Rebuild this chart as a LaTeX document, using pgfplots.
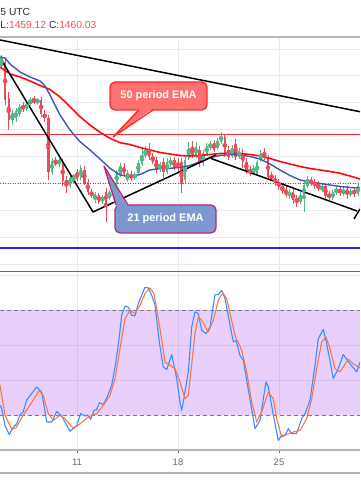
\documentclass[border=0pt]{standalone}
\usepackage{fontspec}
\setmainfont{Liberation Sans}
\usepackage{pgfplots}
\usepackage{pgfplotstable}
\pgfplotsset{compat=1.18}
\definecolor{tvgreen}{RGB}{83,185,135}
\definecolor{tvred}{RGB}{235,77,92}
\definecolor{emared}{RGB}{255,10,10}
\definecolor{emablue}{RGB}{65,85,180}
\definecolor{gridc}{RGB}{228,235,243}
\definecolor{stk}{RGB}{60,140,255}
\definecolor{std}{RGB}{245,120,70}
\definecolor{bandc}{RGB}{167,63,239}
\definecolor{bandline}{RGB}{120,123,134}
\definecolor{lab50}{RGB}{255,112,112}
\definecolor{lab50b}{RGB}{255,40,40}
\definecolor{lab21}{RGB}{125,152,206}
\definecolor{lab21b}{RGB}{190,40,120}
\definecolor{txtdark}{RGB}{40,44,52}
\definecolor{valred}{RGB}{239,83,80}
\definecolor{axgray}{RGB}{178,181,190}
\definecolor{sepc}{RGB}{100,103,112}
\definecolor{ticklab}{RGB}{100,104,114}
\definecolor{hred}{RGB}{245,40,50}
\definecolor{hblue}{RGB}{35,35,255}

% 6h candles, price in chart units (pixel rows, smaller = higher)
\pgfplotstableread{
x o h l c
1.5 66 55 68 58
12.3 120 110 125 113
15.9 118 108 122 111
19.5 114 104 117 107
26.7 109 101 111 103
30.3 104 97 106 100
37.5 103 98 105 99
51.9 172 158 175 161
59.1 164 158 167 160
69.9 186 176 188 178
73.5 182 174 184 175
80.7 178 165 180 168
95.1 200 192 203 194
102.3 201 195 204 197
109.5 198 190 200 192
113.1 192 180 194 182
116.7 184 170 186 172
120.3 175 163 177 166
127.5 180 170 182 173
134.7 178 172 180 174
138.3 173 160 175 163
141.9 164 148 166 155
145.5 156 146 158 150
159.9 170 162 172 164
167.1 172 158 174 162
170.7 165 157 167 160
185.1 180 157 183 160
188.7 158 142 160 148
195.9 155 142 158 147
203.1 163 150 166 153
206.7 154 143 156 146
210.3 148 141 150 144
217.5 148 138 150 141
221.1 142 132 144 136
231.9 156 145 158 148
239.1 157 148 159 151
253.5 173 165 175 168
257.1 174 160 176 162
260.7 160 150 162 153
289.5 196 189 199 192
300.3 202 192 204 195
303.9 196 182 212 185
307.5 186 176 188 179
321.9 190 184 192 186
332.7 198 190 200 192
336.3 193 186 195 189
343.5 194 187 196 190
350.7 195 189 197 191
357.9 194 184 196 186
}\upcandles

\pgfplotstableread{
x o h l c
5.1 62 57 105 100
8.7 98 92 130 120
23.1 106 102 112 109
33.9 100 96 104 102
41.1 100 97 117 114
44.7 114 110 122 118
48.3 118 115 180 172
55.5 162 157 166 163
62.7 162 159 186 181
66.3 180 176 193 185
77.1 172 169 181 179
84.3 170 166 185 183
87.9 182 179 195 192
91.5 192 189 198 196
98.7 195 193 204 202
105.9 192 188 222 203
123.9 167 163 177 174
131.1 174 171 181 179
149.1 150 143 160 157
152.7 156 153 164 162
156.3 160 157 173 170
163.5 162 158 178 172
174.3 160 157 170 168
177.9 162 158 172 168
181.5 162 158 193 184
192.3 147 141 158 155
199.5 150 146 167 163
213.9 143 140 152 150
224.7 137 134 157 154
228.3 150 146 160 157
235.5 144 139 160 157
242.7 153 149 168 162
246.3 162 158 174 171
249.9 170 166 176 173
264.3 153 148 160 158
267.9 158 155 180 177
271.5 175 172 181 179
275.1 178 175 186 183
278.7 182 179 190 187
282.3 186 183 194 191
285.9 189 186 197 195
293.1 192 189 204 200
296.7 198 195 207 202
311.1 180 177 186 184
314.7 182 179 189 186
318.3 184 181 191 189
325.5 186 183 199 196
329.1 194 191 200 198
339.9 189 186 196 193
347.1 189 186 199 195
354.3 190 187 197 194
}\downcandles

\begin{document}
\begin{tikzpicture}[x=1bp,y=1bp]

% ---------------- price panel ----------------
\begin{axis}[
  set layers,
  at={(0bp,232.5bp)}, anchor=south west, scale only axis,
  width=360bp, height=234.5bp,
  xmin=0, xmax=360, ymin=37, ymax=271.5, y dir=reverse,
  axis line style={draw=none}, major tick length=0pt,
  xtick={77,178,279},
  ytick={49,75.9,102.8,129.7,156.6,183.5,210.4,237.3,264.2},
  xticklabels={}, yticklabels={},
  grid=major, major grid style={draw=gridc, line width=0.8bp},
]
% horizontal levels
\addplot[hred, line width=0.9bp] coordinates {(0,134) (360,134)};
\addplot[hred, line width=0.8bp, dash pattern=on 1bp off 1.5bp] coordinates {(0,183) (360,183)};
\addplot[hblue, line width=1.1bp] coordinates {(0,248) (360,248)};
% candles: wicks
\addplot[only marks, mark=none, color=tvgreen, error bars/.cd, y dir=both, y explicit, error mark=none, error bar style={line width=0.8bp, draw=tvgreen}]
  table[x=x, y expr={(\thisrow{h}+\thisrow{l})/2}, y error expr={(\thisrow{l}-\thisrow{h})/2}] {\upcandles};
\addplot[only marks, mark=none, color=tvred, error bars/.cd, y dir=both, y explicit, error mark=none, error bar style={line width=0.8bp, draw=tvred}]
  table[x=x, y expr={(\thisrow{h}+\thisrow{l})/2}, y error expr={(\thisrow{l}-\thisrow{h})/2}] {\downcandles};
% candles: bodies
\addplot[only marks, mark=none, color=tvgreen, error bars/.cd, y dir=both, y explicit, error mark=none, error bar style={line width=2.4bp, draw=tvgreen}]
  table[x=x, y expr={(\thisrow{o}+\thisrow{c})/2}, y error expr={max(abs(\thisrow{o}-\thisrow{c})/2,0.6)}] {\upcandles};
\addplot[only marks, mark=none, color=tvred, error bars/.cd, y dir=both, y explicit, error mark=none, error bar style={line width=2.4bp, draw=tvred}]
  table[x=x, y expr={(\thisrow{o}+\thisrow{c})/2}, y error expr={max(abs(\thisrow{o}-\thisrow{c})/2,0.6)}] {\downcandles};
% EMA 50
\addplot[emared, line width=1.6bp, line join=round] coordinates {
(0,67) (10,74) (20,77) (30,81) (40,85.5) (50,89.5) (60,97) (70,106.7) (80,116.7) (90,125)
(100,132.3) (110,138.3) (120,142.7) (130,144.5) (140,147.5) (150,150) (160,152.5) (170,154)
(180,155.5) (190,156) (200,155.5) (210,154.5) (220,153.5) (230,153.3) (240,153.5) (250,154.5)
(260,156) (270,158.5) (280,161.5) (290,164) (300,166.5) (310,168.5) (320,170) (330,171.5)
(340,173.3) (350,176) (360,179)};
% EMA 21
\addplot[emablue, line width=1.4bp, line join=round] coordinates {
(0,57) (5,58) (10,64) (20,72) (30,77) (40,81) (45,86) (50,95) (55,105) (60,115) (70,130)
(80,141.7) (90,150) (100,159) (110,168.3) (120,175) (130,176.5) (140,174.5) (150,170)
(160,168.5) (170,168.3) (180,167.5) (190,165.5) (200,161.7) (210,157.5) (220,155.5)
(230,154.5) (240,155) (250,156.5) (260,159) (270,164) (280,170) (290,175.5) (300,180)
(310,182) (320,183.5) (330,185) (340,186.5) (350,187.5) (360,188)};
% trend lines
\addplot[black, line width=1.5bp] coordinates {(0,40) (360,111.7)};
\addplot[black, line width=1.5bp, line join=round] coordinates {(2,61) (93,212) (216,155)};
\addplot[black, line width=1.5bp] coordinates {(211,158.5) (357,211)};
\addplot[black, line width=1.5bp] coordinates {(354,219) (360,209)};
% callout 50
\draw[lab50b, fill=lab50, line width=1.3bp, rounded corners=5bp] (axis cs:110,82) rectangle (axis cs:207,110);
\fill[lab50] (axis cs:139,108.3) -- (axis cs:113,137) -- (axis cs:153,108.3) -- cycle;
\draw[lab50b, line width=1.3bp, line join=round] (axis cs:139,110) -- (axis cs:113,137) -- (axis cs:153,110);
\node[text=white, font=\bfseries\fontsize{11}{12}\selectfont] at (axis cs:158.5,96) {50 period EMA};
% callout 21
\draw[lab21b, fill=lab21, line width=1.3bp, rounded corners=5bp] (axis cs:115,205) rectangle (axis cs:216,233);
\fill[lab21] (axis cs:116.5,206.8) -- (axis cs:104,166) -- (axis cs:128,206.8) -- cycle;
\draw[lab21b, line width=1.3bp, line join=round] (axis cs:116,205) -- (axis cs:104,166) -- (axis cs:128,205);
\node[text=white, font=\bfseries\fontsize{11}{12}\selectfont] at (axis cs:165.5,219) {21 period EMA};
\end{axis}

% ---------------- stochastic RSI panel ----------------
\begin{axis}[
  set layers,
  at={(0bp,54bp)}, anchor=south west, scale only axis,
  width=360bp, height=178.5bp,
  xmin=0, xmax=360, ymin=0, ymax=102,
  axis line style={draw=none},
  xtick={77,178,279}, xticklabels={11,18,25},
  ytick={20,40,60,80,100}, yticklabels={},
  xtick pos=left, tick align=outside, major tick length=3.5bp,
  xtick style={draw=sepc, line width=0.8bp}, ytick style={draw=none},
  xticklabel style={font=\fontsize{9.5}{10}\selectfont, text=ticklab, yshift=-1.5bp},
  grid=major, major grid style={draw=gridc, line width=0.8bp},
]
\fill[bandc, fill opacity=0.25] (axis cs:0,20) rectangle (axis cs:360,80);
\addplot[bandline, line width=0.9bp, dash pattern=on 4bp off 3bp] coordinates {(0,80) (360,80)};
\addplot[bandline, line width=0.9bp, dash pattern=on 4bp off 3bp] coordinates {(0,20) (360,20)};
% %K
\addplot[stk, line width=1.1bp, line join=round] coordinates {
(0,25.7) (1.7,23.6) (5,14) (9.3,8.8) (13.3,13) (16.7,15) (20,20) (23.3,22) (26.7,28.6) (30,31)
(36.7,36) (41.7,33) (46.7,16) (51.7,16) (56.7,22) (61.7,19.4) (70,10.7) (76.7,14) (80.7,20.8)
(85,19.4) (87.3,20) (90.7,17.5) (94,22.7) (96.7,23) (99.3,27) (103.3,26) (106.7,29.7) (111.7,37)
(115,47.4) (118.3,59.8) (121.7,77) (125,82.3) (128.3,81.7) (131.7,77) (135,76.6) (138.3,83.6)
(145,93) (148.3,92.6) (151.7,88.4) (155,82.9) (159.3,61.7) (163.3,47.4) (166.7,46) (171.7,54.5)
(176.7,40.8) (180,27.4) (181.7,22.7) (183.3,27.4) (188.3,44.6) (191.7,70.3) (195,78.9)
(198.3,77.9) (201.7,68.4) (206,66.5) (210,70.3) (215,88.8) (218.3,88.8) (221.7,91.2) (225,86.5)
(233.3,61.7) (236,62.7) (240,54) (243.3,51.2) (255,12.2) (260,17) (266,38.9) (268.3,36)
(274,17.9) (278.3,5.5) (281.7,8.4) (285,8.4) (288.3,12.2) (291.7,9.3) (296.7,9.5) (301.7,17.9)
(305,20.8) (310,28.4) (315,48.4) (318.3,63.6) (323.3,69) (326.7,60.8) (333.3,40.8) (338.3,46.5)
(343.3,54.5) (350,49.3) (356.7,44.6) (360,50.3)};
% %D
\addplot[std, line width=1.1bp, line join=round] coordinates {
(0,37) (5,20) (11.7,11.8) (16,12.6) (23.3,20) (30,25.7) (39.3,34) (43.3,31) (48.3,20.8)
(53.3,17) (60,19.8) (65,17.9) (73.3,12.2) (80,15) (88.3,18.9) (96.7,20.8) (103.3,25.5)
(110,31.2) (115,40.8) (120,57.9) (125,75) (130,79.8) (135,77.9) (140,82.7) (145,89.3)
(150,92.6) (154,89.3) (160,69.3) (165,50.3) (170,48.4) (175,46.5) (180,38.9) (185,29.3)
(188.3,31.2) (195,66.5) (198.3,76) (201.7,74.1) (208.3,67.4) (213.3,74.1) (218.3,85.5)
(222.7,89.9) (226.7,86.5) (235,65.5) (241.7,57) (246.7,44.6) (251.7,27.4) (256.7,16)
(261.7,21.7) (268.3,33.1) (273.3,29.3) (276.7,17.9) (281.7,7.4) (288.3,9.3) (293.3,10.3)
(300,11.2) (306.7,17.9) (311.7,29.3) (316.7,46.5) (321.7,61.7) (326,64.6) (330,57.9)
(335,46.5) (340,44.6) (348.3,51.8) (353.3,49.3) (358.3,47.4) (360,47)};
\end{axis}

% ---------------- frame ----------------
\draw[axgray, line width=1.3bp] (0,467) -- (360,467);
\draw[sepc, line width=1.1bp] (0,232.5) -- (360,232.5);
\draw[axgray, line width=1.5bp] (0,54) -- (360,54);
\draw[axgray, line width=1.5bp] (0,31) -- (360,31);

% ---------------- header ----------------
\node[anchor=base west, inner sep=0, font=\fontsize{10.3}{12}\selectfont, text=txtdark] at (0.3,488.8) {5 UTC};
\node[anchor=base west, inner sep=0, font=\fontsize{10.3}{12}\selectfont] at (0.3,475.7)
  {{\color{txtdark}L:}{\color{valred}1459.12} {\color{txtdark}C:}{\color{valred}1460.03}};

\pgfresetboundingbox
\path[use as bounding box] (0,0) rectangle (360,504);
\end{tikzpicture}
\end{document}
